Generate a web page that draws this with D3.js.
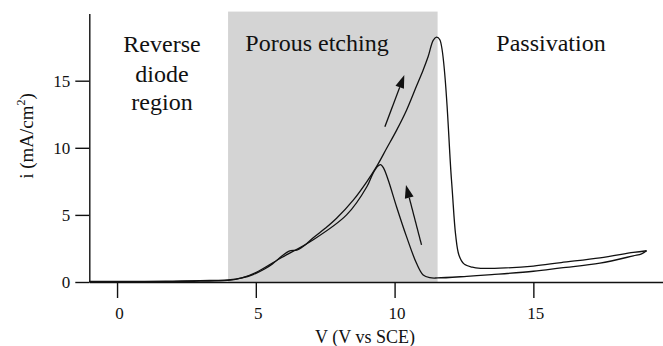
<!DOCTYPE html>
<html>
<head>
<meta charset="utf-8">
<script src="https://cdn.jsdelivr.net/npm/d3@7"></script>
<style>
  body { margin: 0; background: #fff; }
  svg { display: block; font-family: "Liberation Serif", "Times New Roman", serif; }
</style>
</head>
<body>
<svg id="chart" width="663" height="346"></svg>
<script>
// forward scan (V going up)
var fwdV = [-1, 0, 1, 2, 3, 3.5, 4, 4.5, 4.9, 5.3, 5.6, 5.95, 6.2, 6.5, 6.8, 7.07, 7.5, 7.91, 8.51, 8.99, 9.35, 9.71, 10.07, 10.43, 10.79, 11.03, 11.21, 11.39, 11.51, 11.63, 12.05, 12.2, 12.32, 12.5, 12.8, 13.1, 14, 15, 16, 17.4, 18.6, 19.08];
var fwdI = [0.04, 0.04, 0.05, 0.07, 0.1, 0.12, 0.15, 0.3, 0.55, 0.95, 1.35, 1.95, 2.3, 2.4, 2.8, 3.3, 4.0, 4.75, 6.1, 7.45, 8.6, 9.95, 11.3, 12.8, 14.6, 15.8, 16.8, 18.0, 18.25, 18.05, 7.6, 3.5, 2.0, 1.35, 1.1, 1.02, 1.05, 1.19, 1.45, 1.8, 2.2, 2.33];

// reverse scan (V going back down)
var revV = [19.08, 18.9, 18.6, 17.4, 16, 15, 13.5, 12.6, 11.55, 11.27, 11.03, 10.79, 10.43, 10.07, 9.77, 9.6, 9.5, 9.38, 9.2, 9.0, 8.27, 7.07, 5.87, 5.0, 4.5, 4, 3, 2, 1, 0, -1];
var revI = [2.33, 2.1, 1.95, 1.4, 1.05, 0.8, 0.55, 0.42, 0.3, 0.32, 0.52, 1.39, 3.38, 5.61, 7.6, 8.5, 8.75, 8.6, 8.0, 7.1, 5.0, 3.15, 1.75, 0.7, 0.3, 0.12, 0.06, 0.03, 0.02, 0.02, 0.02];

var xTicks = [0, 5, 10, 15];
var yTicks = [0, 5, 10, 15];
var etchV = [4, 11.55];
var etchTop = 20.15;

// arrows: [tailV, tailI, tipV, tipI]
var arrowUp = [9.65, 11.57, 10.35, 15.42];
var arrowBack = [10.97, 2.76, 10.41, 7.23];

var svg = d3.select("#chart");
var x = d3.scaleLinear().domain([-1, 19.7]).range([89.3, 663.8]);
var y = d3.scaleLinear().domain([0, 20]).range([282, 13.6]);
var serif = "'Liberation Serif', 'Times New Roman', serif";

// grey band for porous etching
svg.append("rect")
  .attr("x", x(etchV[0]))
  .attr("y", y(etchTop))
  .attr("width", x(etchV[1]) - x(etchV[0]))
  .attr("height", y(0) - y(etchTop))
  .attr("fill", "#d4d4d4");

// region names
var regionText = svg.append("g").attr("font-family", serif).attr("font-size", 24).attr("text-anchor", "middle").attr("fill", "#111");
regionText.append("text").attr("x", 162).attr("y", 52).text("Reverse");
regionText.append("text").attr("x", 162).attr("y", 82).text("diode");
regionText.append("text").attr("x", 162).attr("y", 110).text("region");
regionText.append("text").attr("x", 317).attr("y", 51).text("Porous etching");
regionText.append("text").attr("x", 551).attr("y", 51).text("Passivation");

// axes, minor ticks every volt / mA
var xg = svg.append("g").attr("transform", "translate(0," + y(0) + ")");
xg.call(d3.axisBottom(x).tickValues(d3.range(-1, 20)).tickSize(8).tickSizeOuter(0).tickFormat(""));
xg.call(d3.axisBottom(x).tickValues(xTicks).tickSize(16).tickSizeOuter(0).tickFormat(d3.format("d")));

var yg = svg.append("g").attr("transform", "translate(" + x(-1) + ",0)");
yg.call(d3.axisLeft(y).tickValues(d3.range(0, 19)).tickSize(8).tickSizeOuter(0).tickFormat(""));
yg.call(d3.axisLeft(y).tickValues(yTicks).tickSize(14).tickSizeOuter(0).tickPadding(5).tickFormat(d3.format("d")));

svg.selectAll(".domain, .tick line").attr("stroke", "#111").attr("stroke-width", 1.4);
svg.selectAll(".tick text")
  .attr("font-family", serif)
  .attr("font-size", 17)
  .attr("fill", "#111");
xg.selectAll(".tick text").attr("y", 25).attr("dx", 2);

// axis titles
svg.append("text")
  .attr("x", 365).attr("y", 343)
  .attr("text-anchor", "middle")
  .attr("font-family", serif)
  .attr("font-size", 18)
  .attr("fill", "#111")
  .text("V (V vs SCE)");

var yt = svg.append("text")
  .attr("transform", "translate(33,136) rotate(-90)")
  .attr("text-anchor", "middle")
  .attr("font-family", serif)
  .attr("font-size", 19)
  .attr("fill", "#111");
yt.append("tspan").text("i (mA/cm");
yt.append("tspan").attr("font-size", 12).attr("dy", -8).text("2");
yt.append("tspan").attr("dy", 8).text(")");

// curves
var line = d3.line()
  .x(function(d) { return x(d[0]); })
  .y(function(d) { return y(d[1]); })
  .curve(d3.curveCatmullRom.alpha(0.5));

svg.append("path")
  .datum(d3.zip(fwdV, fwdI))
  .attr("d", line)
  .attr("fill", "none").attr("stroke", "#111").attr("stroke-width", 1.3);

svg.append("path")
  .datum(d3.zip(revV, revI))
  .attr("d", line)
  .attr("fill", "none").attr("stroke", "#111").attr("stroke-width", 1.3);

// arrows
function drawArrow(a) {
  var x0 = x(a[0]), y0 = y(a[1]), x1 = x(a[2]), y1 = y(a[3]);
  var ang = Math.atan2(y1 - y0, x1 - x0);
  var hl = 13, hw = 4.5;
  var bx = x1 - hl * Math.cos(ang), by = y1 - hl * Math.sin(ang);
  svg.append("line")
    .attr("x1", x0).attr("y1", y0).attr("x2", bx).attr("y2", by)
    .attr("stroke", "#111").attr("stroke-width", 1.3);
  var px = -Math.sin(ang) * hw, py = Math.cos(ang) * hw;
  svg.append("path")
    .attr("d", "M" + x1 + "," + y1 + "L" + (bx + px) + "," + (by + py) + "L" + (bx - px) + "," + (by - py) + "Z")
    .attr("fill", "#111");
}
drawArrow(arrowUp);
drawArrow(arrowBack);
</script>
</body>
</html>
